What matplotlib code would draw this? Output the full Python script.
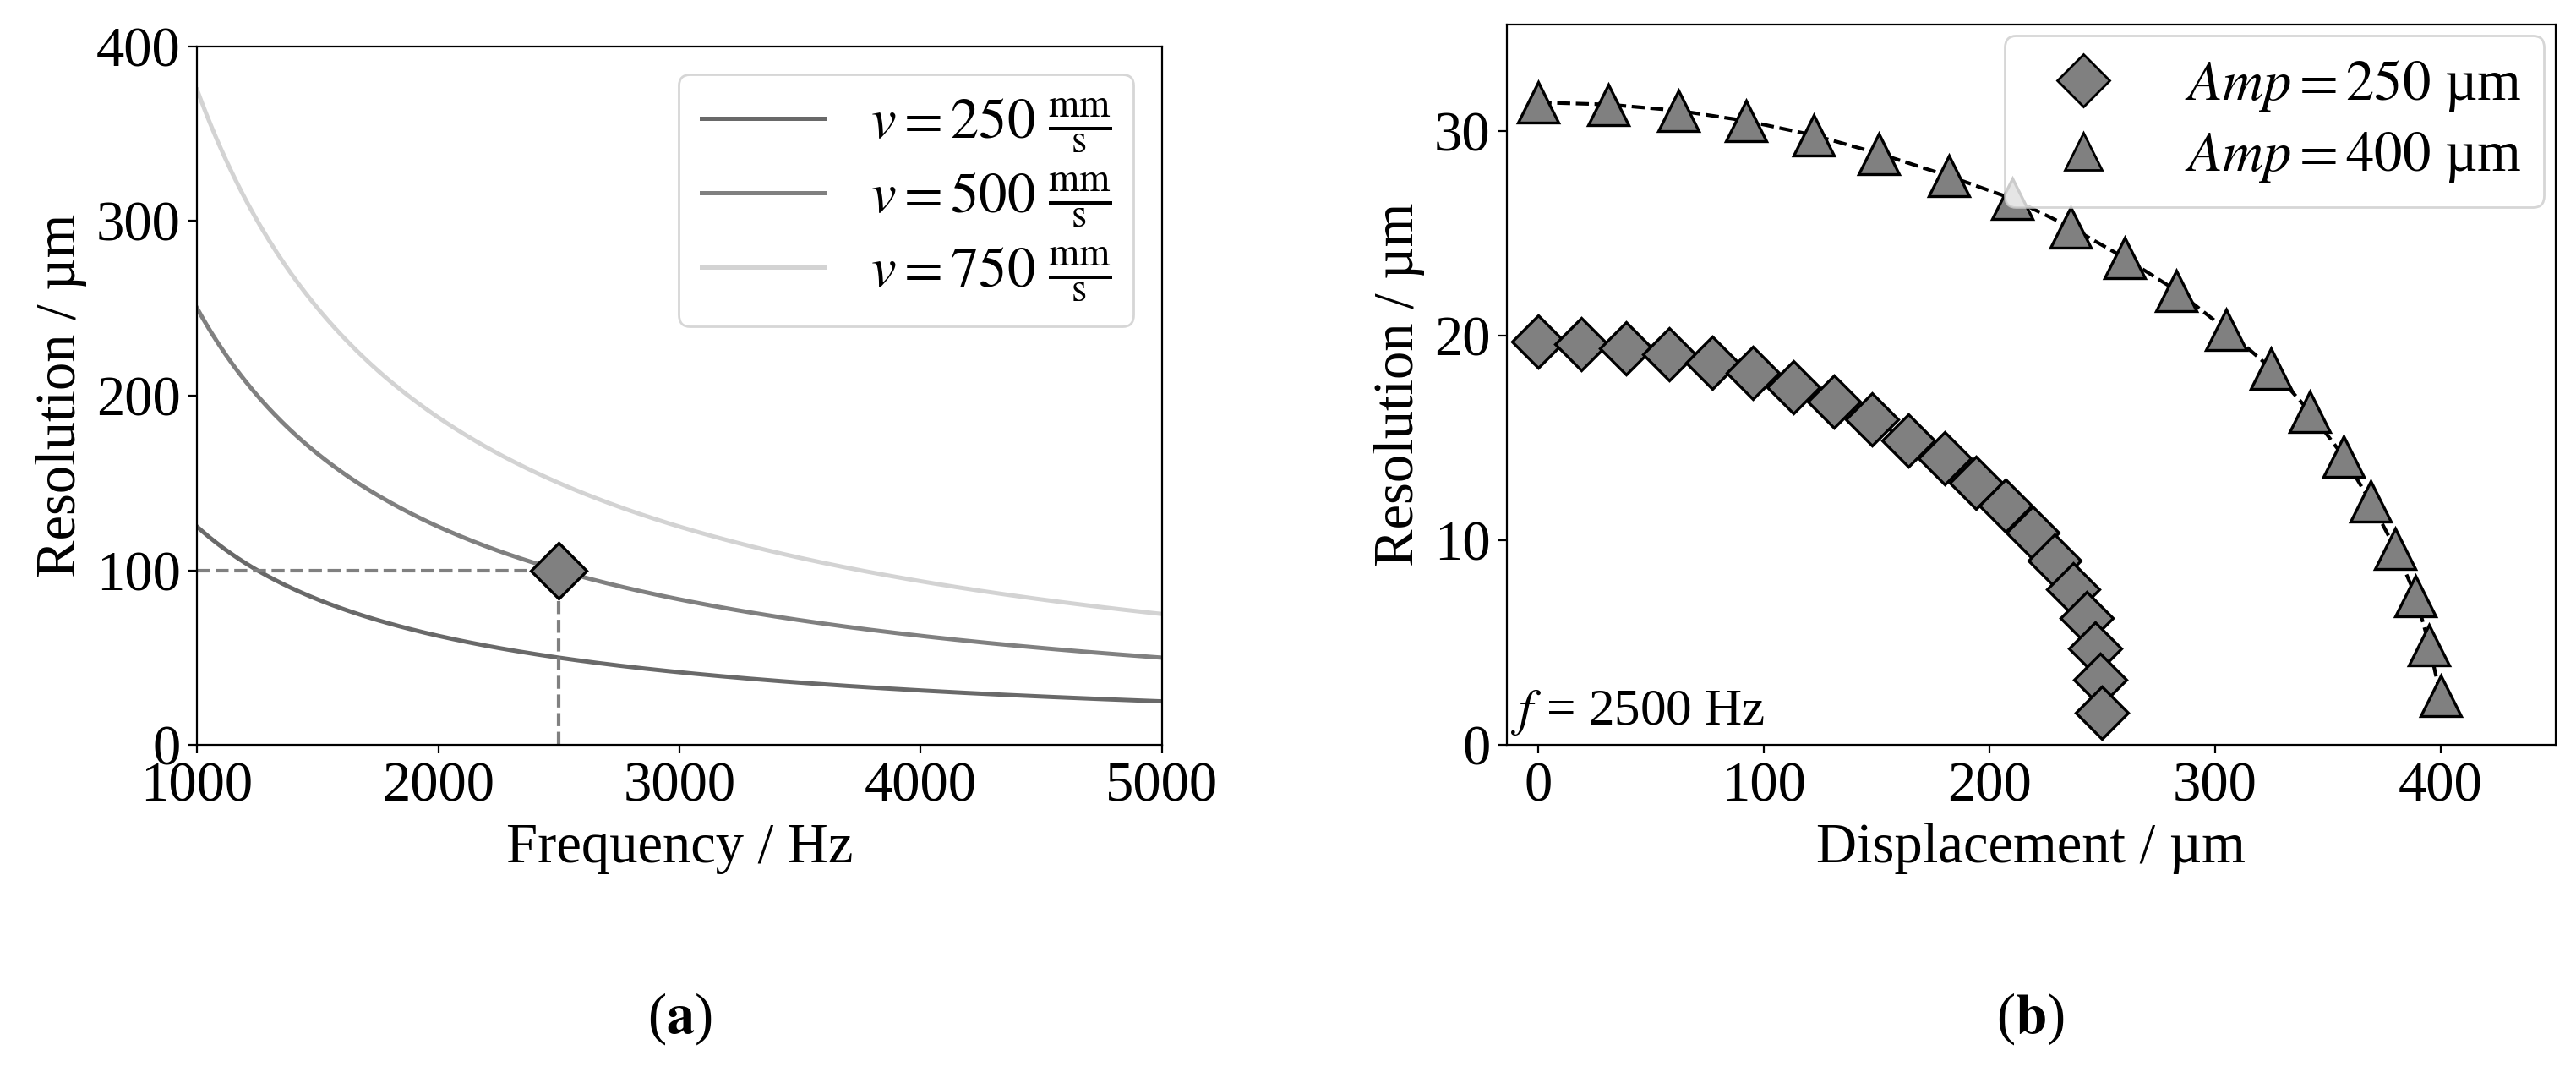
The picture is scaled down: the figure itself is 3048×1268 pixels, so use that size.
import matplotlib
matplotlib.use("Agg")
import matplotlib.pyplot as plt
import numpy as np

plt.rcParams['font.family'] = ['Liberation Serif', 'DejaVu Serif']
plt.rcParams['mathtext.fontset'] = 'stix'
plt.rcParams['font.size'] = 24

# panel (a): resolution = v / (2 f)
velocities = [250, 500, 750]  # mm/s
curve_colors = ['#696969', '#808080', '#d3d3d3']
freq = np.linspace(1000, 5000, 400)
op_freq, op_res = 2500, 100

# panel (b)
disp_250 = [0, 19, 39, 58, 77, 95, 113, 131, 148, 164, 180, 194, 207, 219, 229, 237, 243, 247, 249, 250]
res_250 = [19.7, 19.6, 19.4, 19.1, 18.7, 18.2, 17.5, 16.8, 15.9, 14.9, 14.0, 12.8, 11.7, 10.4, 9.0, 7.6, 6.2, 4.7, 3.2, 1.6]
disp_400 = [0, 31, 62, 92, 122, 151, 182, 210, 236, 260, 283, 305, 325, 342, 357, 369, 380, 389, 395, 400]
res_400 = [31.4, 31.3, 31.0, 30.5, 29.8, 28.9, 27.8, 26.7, 25.3, 23.8, 22.2, 20.3, 18.4, 16.3, 14.1, 11.9, 9.6, 7.3, 4.9, 2.4]

fig = plt.figure(figsize=(15.24, 6.34), dpi=200)
ax1 = fig.add_axes([0.0765, 0.305, 0.3745, 0.652])
ax2 = fig.add_axes([0.585, 0.305, 0.407, 0.672])

for v, c in zip(velocities, curve_colors):
    ax1.plot(freq, v / (2 * freq) * 1000, color=c, lw=1.8,
             label=r'$v = %d\ \frac{\mathrm{mm}}{\mathrm{s}}$' % v)
ax1.plot([1000, op_freq], [op_res, op_res], '--', color='#808080', lw=1.5)
ax1.plot([op_freq, op_freq], [0, op_res], '--', color='#808080', lw=1.5)
ax1.plot(op_freq, op_res, 'D', ms=17, mfc='#808080', mec='black', mew=1.2)
ax1.set_xlim(1000, 5000)
ax1.set_ylim(0, 400)
ax1.set_yticks([0, 100, 200, 300, 400])
ax1.set_xlabel('Frequency / Hz')
ax1.set_ylabel('Resolution / µm')
ax1.legend(loc='upper right', fontsize=24, handlelength=2.2, labelspacing=0.3)

ax2.plot(disp_250, res_250, '--D', color='black', ms=16, mfc='#808080', mec='black', mew=1.2,
         lw=1.5, label=r'$Amp = 250$ µm')
ax2.plot(disp_400, res_400, '--^', color='black', ms=17, mfc='#808080', mec='black', mew=1.2,
         lw=1.5, label=r'$Amp = 400$ µm')
ax2.set_xlim(-14, 451)
ax2.set_ylim(0, 35.2)
ax2.set_yticks([0, 10, 20, 30])
ax2.set_xlabel('Displacement / µm')
ax2.set_ylabel('Resolution / µm')
h, l = ax2.get_legend_handles_labels()
h = [plt.Line2D([], [], ls='none', marker=m, ms=16, mfc='#808080', mec='black') for m in ['D', '^']]
ax2.legend(h, l, loc='upper right', fontsize=24, labelspacing=0.3, borderaxespad=0.2)
ax2.text(-12, 1.0, r'$f$ = 2500 Hz', fontsize=22)

fig.text(0.264, 0.037, r'($\mathbf{a}$)', ha='center', fontsize=24)
fig.text(0.788, 0.037, r'($\mathbf{b}$)', ha='center', fontsize=24)

fig.savefig('out.png', dpi=200)
